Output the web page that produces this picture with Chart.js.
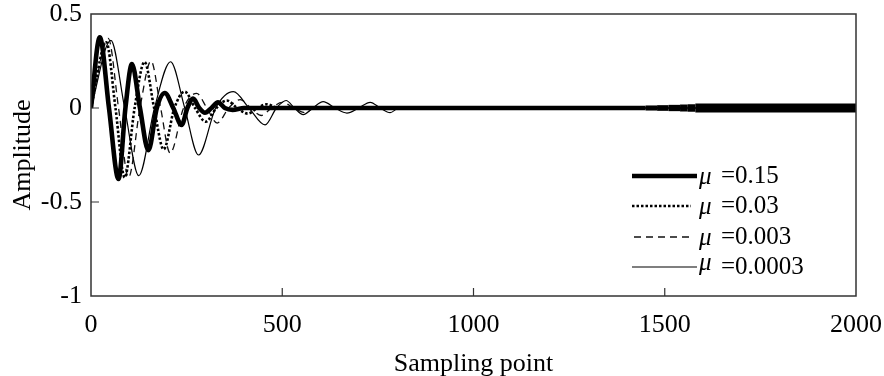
<!DOCTYPE html>
<html>
<head>
<meta charset="utf-8">
<script src="https://cdn.jsdelivr.net/npm/chart.js@4"></script>
<style>
  html,body{margin:0;padding:0;background:#fff;}
  #wrap{position:relative;width:884px;height:376px;}
</style>
</head>
<body>
<div id="wrap"><canvas id="c" width="884" height="376"></canvas></div>
<script>
// ---- data ----
const seriesLabels = ['0.15', '0.03', '0.003', '0.0003'];

const x015 = [0,23,47,72,90,107,128,150,172,193,215,237,252,267,283,298,315,332,350,370,400,1450,1480,1510,1540,1560,1580,2000];
const y015 = [0,0.376,0,-0.378,0,0.234,0,-0.225,0,0.08,0,-0.09,0,0.05,0,-0.025,0,0.03,0,-0.01,0,0,0,0,0,0,0,0];

const x003 = [0,40,64,88,114,140,165,190,218,245,272,300,328,355,382,410,435,460,490,2000];
const y003 = [0,0.35,0,-0.37,0,0.245,0,-0.22,0,0.087,0,-0.073,0,0.04,0,-0.03,0,0.02,0,0];

const x0003 = [0,45,72,98,128,157,182,207,242,276,303,330,360,390,418,445,472,500,530,560,585,2000];
const y0003 = [0,0.37,0,-0.37,0,0.25,0,-0.24,0,0.078,0,-0.08,0,0.045,0,-0.04,0,0.03,0,-0.025,0,0];

const x00003 = [0,52,88,125,166,208,245,281,326,372,413,455,485,510,532,555,580,607,638,669,700,730,756,782,805,2000];
const y00003 = [0,0.36,0,-0.36,0,0.246,0,-0.25,0,0.087,0,-0.09,0,0.04,0,-0.035,0,0.034,0,-0.027,0,0.03,0,-0.025,0,0];

const xTicks = [0, 500, 1000, 1500, 2000];
const yTicks = [-1, -0.5, 0, 0.5];
const xTickLabels = ['0', '500', '1000', '1500', '2000'];
const yTickLabels = ['-1', '-0.5', '0', '0.5'];
const xTitle = 'Sampling point';
const yTitle = 'Amplitude';

const pts = (xs, ys) => xs.map((x, i) => ({x: x, y: ys[i]}));

const FONT = '"Liberation Serif", "Times New Roman", serif';

const thickWidth = (ctx) => {
  const x0 = ctx.p0.parsed.x;
  if (x0 >= 1580) return 9;
  if (x0 >= 1560) return 7.5;
  if (x0 >= 1540) return 7;
  if (x0 >= 1510) return 6.3;
  if (x0 >= 1480) return 5.7;
  if (x0 >= 1450) return 5.1;
  return 4.6;
};

const datasets = [
  {label: seriesLabels[0], data: pts(x015, y015), borderColor: '#000', borderWidth: 4.6, borderDash: [],
   segment: {borderWidth: thickWidth}},
  {label: seriesLabels[1], data: pts(x003, y003), borderColor: '#000', borderWidth: 2.6, borderDash: [2.5, 2]},
  {label: seriesLabels[2], data: pts(x0003, y0003), borderColor: '#111', borderWidth: 1.3, borderDash: [7, 5]},
  {label: seriesLabels[3], data: pts(x00003, y00003), borderColor: '#000', borderWidth: 1.2, borderDash: []}
].map(d => Object.assign({pointRadius: 0, fill: false, cubicInterpolationMode: 'monotone', borderCapStyle: 'butt'}, d));

const framePlugin = {
  id: 'frame',
  afterDatasetsDraw(chart) {
    const {ctx, chartArea: a, scales} = chart;
    ctx.save();
    ctx.strokeStyle = '#333';
    ctx.lineWidth = 1.5;
    ctx.strokeRect(a.left, a.top, a.right - a.left, a.bottom - a.top);
    ctx.lineWidth = 1.2;
    ctx.beginPath();
    xTicks.forEach(v => {
      const px = scales.x.getPixelForValue(v);
      if (px > a.left + 2 && px < a.right - 2) { ctx.moveTo(px, a.bottom); ctx.lineTo(px, a.bottom - 8); }
    });
    yTicks.forEach(v => {
      const py = scales.y.getPixelForValue(v);
      if (py > a.top + 2 && py < a.bottom - 2) { ctx.moveTo(a.left, py); ctx.lineTo(a.left + 8, py); }
    });
    ctx.stroke();
    ctx.restore();
  }
};

const legendPlugin = {
  id: 'innerLegend',
  afterDraw(chart) {
    const {ctx} = chart;
    const rows = [176, 206, 237, 267];
    const lineStart = [632, 632, 634, 632];
    const lineEnd = [697, 691, 691, 697];
    ctx.save();
    chart.data.datasets.forEach((d, i) => {
      const y = rows[i];
      ctx.beginPath();
      ctx.strokeStyle = d.borderColor;
      ctx.lineWidth = i === 0 ? 4.6 : d.borderWidth;
      ctx.setLineDash(d.borderDash || []);
      ctx.moveTo(lineStart[i], y);
      ctx.lineTo(lineEnd[i], y);
      ctx.stroke();
      ctx.setLineDash([]);
      ctx.fillStyle = '#000';
      ctx.textBaseline = 'middle';
      ctx.textAlign = 'left';
      ctx.font = 'italic 25px ' + FONT;
      ctx.fillText('\u03bc', 699, i === 3 ? y - 4 : y + 1);
      ctx.font = '25px ' + FONT;
      ctx.fillText('=' + d.label, 721, y);
    });
    ctx.restore();
  }
};

new Chart(document.getElementById('c'), {
  type: 'line',
  data: {datasets},
  options: {
    responsive: false,
    animation: false,
    events: [],
    layout: {padding: {top: 14, right: 28, left: 0, bottom: 0}},
    plugins: {legend: {display: false}, tooltip: {enabled: false}},
    scales: {
      x: {
        type: 'linear', min: 0, max: 2000,
        afterBuildTicks: s => { s.ticks = xTicks.map(v => ({value: v})); },
        afterFit: s => { s.height = 80; s.paddingRight = 0; s.paddingLeft = 0; },
        grid: {display: false, drawTicks: false},
        border: {display: false},
        ticks: {color: '#000', font: {family: FONT, size: 26}, padding: 14, maxRotation: 0, autoSkip: false,
                callback: (v, i) => xTickLabels[xTicks.indexOf(v)]},
        title: {display: true, text: xTitle, color: '#000', font: {family: FONT, size: 26}, padding: {top: 0, bottom: -4}}
      },
      y: {
        type: 'linear', min: -1, max: 0.5,
        afterBuildTicks: s => { s.ticks = yTicks.map(v => ({value: v})); },
        afterFit: s => { s.width = 91; s.paddingTop = 0; s.paddingBottom = 0; },
        grid: {display: false, drawTicks: false},
        border: {display: false},
        ticks: {color: '#000', font: {family: FONT, size: 26}, padding: 9, autoSkip: false,
                callback: (v) => yTickLabels[yTicks.indexOf(v)]},
        title: {display: true, text: yTitle, color: '#000', font: {family: FONT, size: 26}, padding: {top: 8, bottom: 0}}
      }
    }
  },
  plugins: [framePlugin, legendPlugin]
});
</script>
</body>
</html>
